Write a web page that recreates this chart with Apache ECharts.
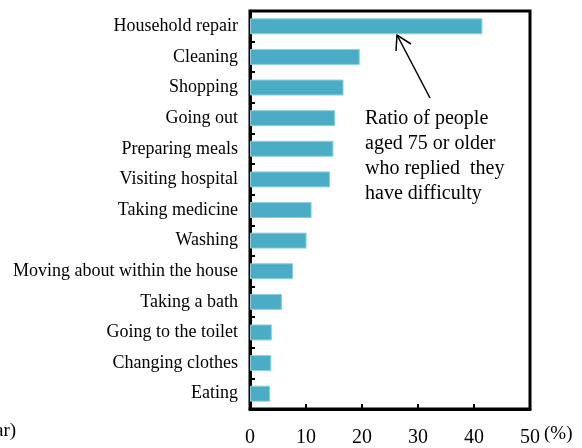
<!DOCTYPE html>
<html><head><meta charset="utf-8">
<script src="https://cdn.jsdelivr.net/npm/echarts@6/dist/echarts.min.js"></script>
<style>html,body{margin:0;padding:0;background:#fff}#c{width:582px;height:448px}</style>
</head><body><div id="c"></div>
<script>
const categories = ["Household repair","Cleaning","Shopping","Going out","Preparing meals","Visiting hospital","Taking medicine","Washing","Moving about within the house","Taking a bath","Going to the toilet","Changing clothes","Eating"];
const values = [41.5, 19.6, 16.7, 15.2, 14.9, 14.3, 11.0, 10.1, 7.7, 5.7, 3.9, 3.8, 3.6];
const xTicks = [0, 10, 20, 30, 40, 50];
const noteLines = ["Ratio of people", "aged 75 or older", "who replied  they", "have difficulty"];

const serif = '"Liberation Serif", "DejaVu Serif", serif';
const chart = echarts.init(document.getElementById('c'));
chart.setOption({
  animation: false,
  grid: { left: 250, right: 52, top: 11, bottom: 39, show: true, borderColor: '#000', borderWidth: 3 },
  xAxis: {
    type: 'value', min: 0, max: 50, interval: 10,
    axisLine: { show: true, lineStyle: { color: '#000', width: 3 } },
    axisTick: { show: true, inside: true, length: 5, lineStyle: { color: '#000', width: 2 } },
    splitLine: { show: false },
    axisLabel: { color: '#000', fontFamily: serif, fontSize: 20, margin: 19,
      formatter: v => xTicks.includes(v) ? String(v) : '' }
  },
  yAxis: {
    type: 'category', data: categories, inverse: true,
    axisLine: { show: true, lineStyle: { color: '#000', width: 3 } },
    axisTick: { show: true, inside: true, length: 5, lineStyle: { color: '#000', width: 2 } },
    axisLabel: { color: '#000', fontFamily: serif, fontSize: 18, margin: 12 }
  },
  series: [{
    type: 'bar', data: values, barWidth: 16,
    itemStyle: { color: '#4BACC6', borderColor: '#8fd0e0', borderWidth: 1 }
  }],
  graphic: [
    { type: 'text', left: 544, top: 425, style: { text: '(%)', font: '19px ' + serif, fill: '#000' } },
    { type: 'text', left: -5, top: 422, style: { text: 'ar)', font: '19px ' + serif, fill: '#000' } },
    { type: 'line', shape: { x1: 430, y1: 98, x2: 397, y2: 35 }, style: { stroke: '#000', lineWidth: 1.5 } },
    { type: 'polyline', shape: { points: [[396, 51], [397, 35], [411, 44]] }, style: { stroke: '#000', lineWidth: 1.5, fill: null } },
    { type: 'text', left: 365, top: 106, style: { text: noteLines.join('\n'), font: '20px ' + serif, lineHeight: 25, fill: '#000' } }
  ]
});
</script></body></html>
